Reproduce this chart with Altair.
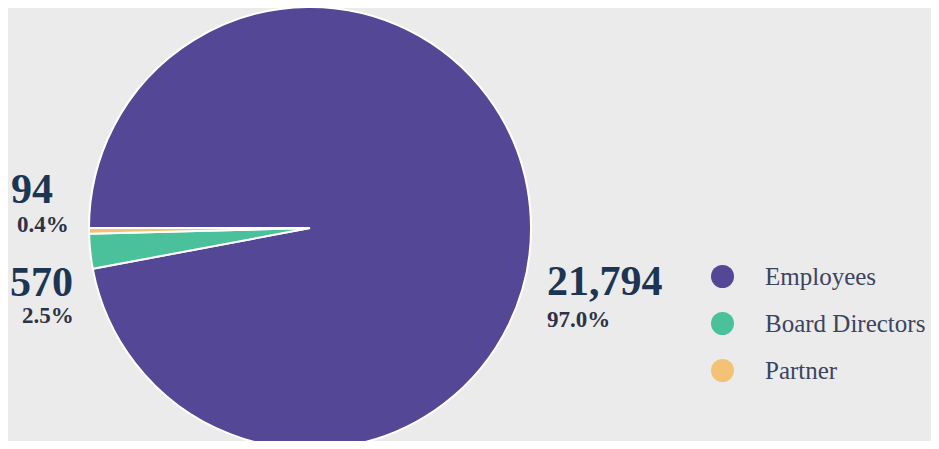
import math
import altair as alt
import pandas as pd

categories = ["Employees", "Board Directors", "Partner"]
counts = [21794, 570, 94]
colors = ["#534796", "#4bc19b", "#f4c276"]

total = sum(counts)
df = pd.DataFrame({
    "category": categories,
    "count": counts,
    "order": list(range(len(categories))),
    "count_label": [f"{c:,}" for c in counts],
    "pct_label": [f"{c / total * 100:.1f}%" for c in counts],
})

W, H = 604, 433
start = 1.5 * math.pi

pie = alt.Chart(df).mark_arc(stroke="white", strokeWidth=2, outerRadius=221).encode(
    theta=alt.Theta("count:Q", stack=True, scale=alt.Scale(range=[start, start + 2 * math.pi])),
    order=alt.Order("order:Q"),
    x=alt.value(302),
    y=alt.value(220),
    color=alt.Color(
        "category:N",
        scale=alt.Scale(domain=categories, range=colors),
        legend=alt.Legend(
            title=None,
            orient="none",
            legendX=702,
            legendY=256,
            symbolType="circle",
            symbolSize=529,
            symbolStrokeWidth=0,
            labelFont="Liberation Serif",
            labelFontSize=25,
            labelColor="#3b4461",
            labelOffset=30,
            labelLimit=0,
            rowPadding=21,
            padding=0,
        ),
    ),
)

# label placement (chart coordinates): (count x, count baseline, pct x, pct baseline)
label_pos = {
    "Employees": (539, 287, 539, 319),
    "Board Directors": (2, 288, 14, 315),
    "Partner": (3, 195, 9, 224),
}

layers = [pie]
for cat in categories:
    cx, cy, px, py = label_pos[cat]
    base = alt.Chart(df).transform_filter(alt.datum.category == cat)
    layers.append(
        base.mark_text(font="Liberation Serif", fontWeight="bold", fontSize=42,
                       color="#1c3553", align="left", baseline="alphabetic").encode(
            text="count_label:N", x=alt.value(cx), y=alt.value(cy))
    )
    layers.append(
        base.mark_text(font="Liberation Serif", fontWeight="bold", fontSize=23,
                       color="#2d3347", align="left", baseline="alphabetic").encode(
            text="pct_label:N", x=alt.value(px), y=alt.value(py))
    )

chart = alt.layer(*layers).properties(
    width=W,
    height=H,
    background="#ebebeb",
    autosize=alt.AutoSizeParams(type="none"),
    padding={"left": 0, "top": 0, "right": 319, "bottom": 0},
).configure_view(stroke=None)

chart.save("out.html", embed_options={"renderer": "svg", "actions": False})
